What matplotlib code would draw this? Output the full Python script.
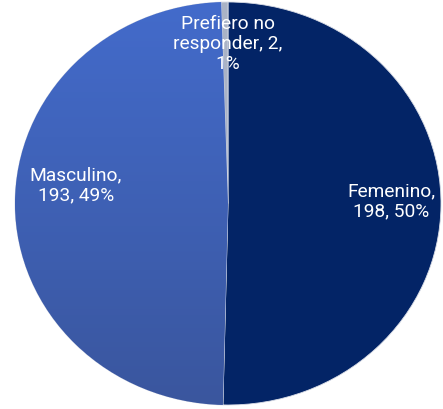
import numpy as np
import matplotlib
matplotlib.use("Agg")
import matplotlib.pyplot as plt

labels = ["Femenino", "Masculino", "Prefiero no\nresponder"]
counts = [198, 193, 2]
colors = ["#032466", "#3d62bb", "#aab3c6"]

plt.rcParams['font.family'] = ['Roboto', 'DejaVu Sans']

fig = plt.figure(figsize=(4.43, 4.10), dpi=100)
# axes sized in pixels so the pie ends up slightly oval like the original
ax = fig.add_axes([15 / 443, 4 / 410, 426 / 443, 403 / 410])

wedges, _ = ax.pie(counts, colors=colors, startangle=90, counterclock=False,
                   wedgeprops=dict(linewidth=0.6, edgecolor="#d8dce6"))
ax.set_aspect('auto')

# soft vertical gradient on the Masculino slice
grad = np.linspace(0, 1, 256).reshape(-1, 1)
cmap = matplotlib.colors.LinearSegmentedColormap.from_list("m", ["#3a569e", "#436bcb"])
im = ax.imshow(grad, extent=(-1, 1, -1, 1), origin="lower", cmap=cmap,
               aspect="auto", zorder=wedges[1].get_zorder() + 0.1)
im.set_clip_path(wedges[1])
ax.set_xlim(-1, 1)
ax.set_ylim(-1, 1)

total = sum(counts)
pct = [int(c / total * 100 + 0.5) for c in counts]
texts = ["%s,\n%d, %d%%" % (l, c, p) for l, c, p in zip(labels, counts, pct)]
texts[2] = "Prefiero no\nresponder, %d,\n%d%%" % (counts[2], pct[2])

pos = [(0.765, 0.015), (-0.714, 0.094), (0.0, 0.797)]
for t, (x, y) in zip(texts, pos):
    ax.text(x, y, t, ha="center", va="center", color="white", fontsize=13.8,
            linespacing=1.15, zorder=10)

ax.axis("off")
fig.savefig("out.png", dpi=100)
